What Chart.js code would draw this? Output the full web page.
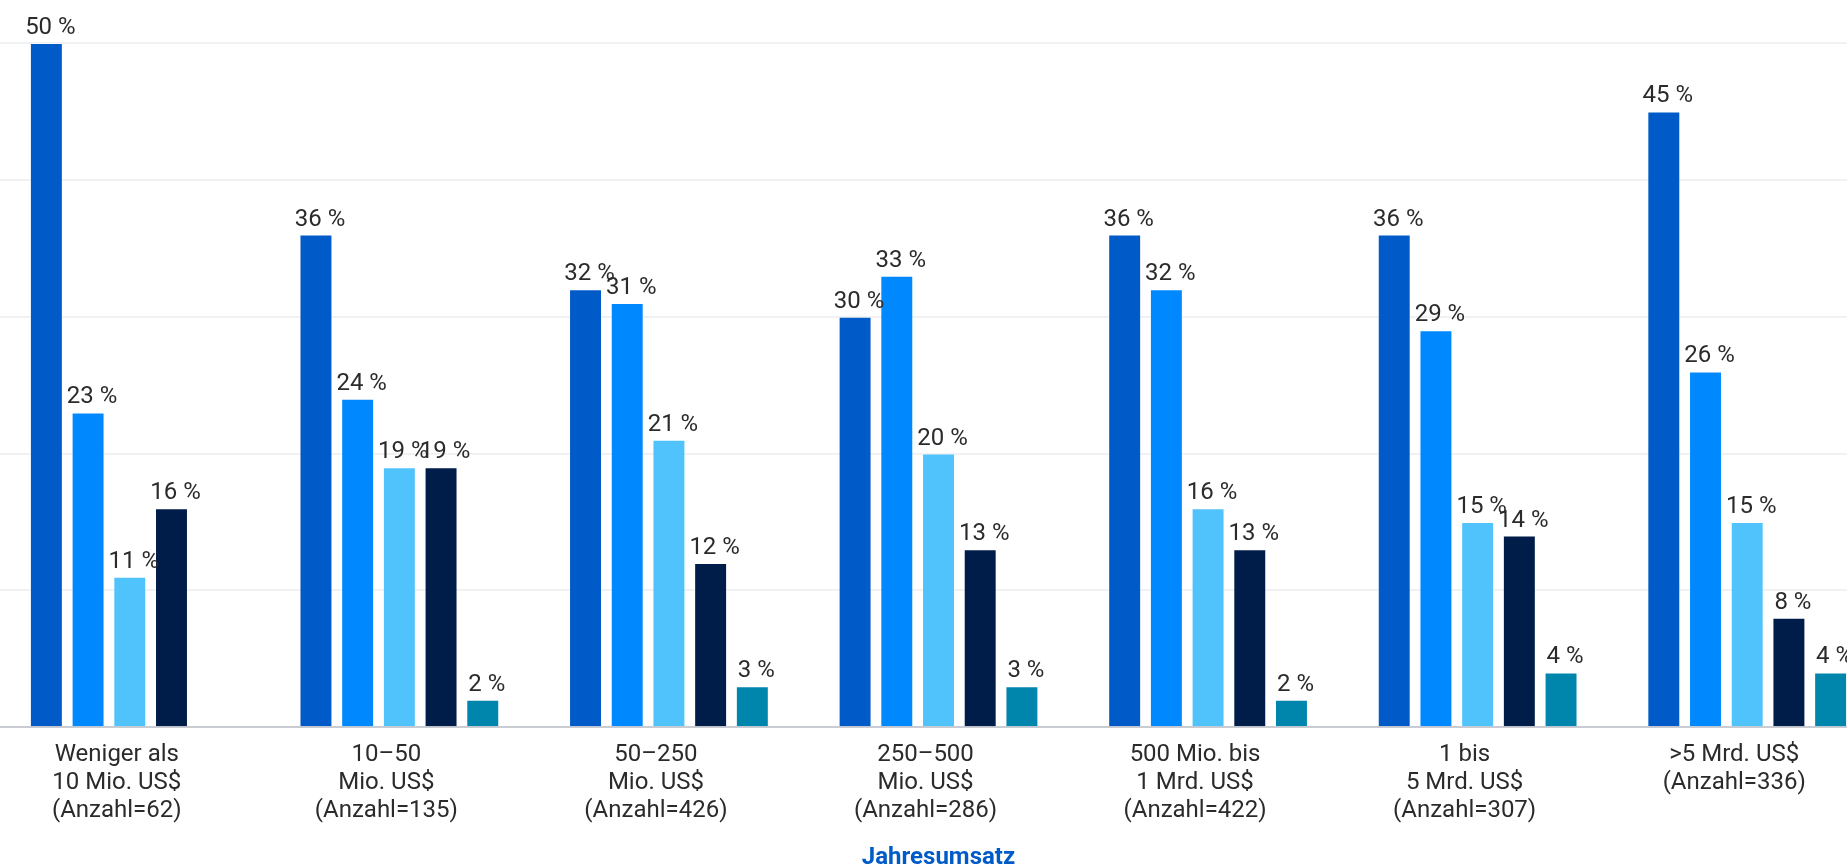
<!DOCTYPE html>
<html lang="de">
<head>
<meta charset="utf-8">
<title>Jahresumsatz</title>
<script src="https://cdn.jsdelivr.net/npm/chart.js@4/dist/chart.umd.min.js"></script>
<style>
    html, body { margin: 0; padding: 0; background: #fff; overflow: hidden; }
    body { width: 1847px; height: 867px; position: relative; }
    #umsatzChart { position: absolute; left: -5px; top: 0; }
</style>
</head>
<body>
<canvas id="umsatzChart" width="1887" height="880"></canvas>
<script>
// Umsatzklassen (x-Achse), mehrzeilig
const kategorien = [
    ['Weniger als', '10 Mio. US$', '(Anzahl=62)'],
    ['10–50', 'Mio. US$', '(Anzahl=135)'],
    ['50–250', 'Mio. US$', '(Anzahl=426)'],
    ['250–500', 'Mio. US$', '(Anzahl=286)'],
    ['500 Mio. bis', '1 Mrd. US$', '(Anzahl=422)'],
    ['1 bis', '5 Mrd. US$', '(Anzahl=307)'],
    ['>5 Mrd. US$', '(Anzahl=336)']
];

// Anteile in Prozent je Reihe
const reihe1 = [50, 36, 32, 30, 36, 36, 45];
const reihe2 = [23, 24, 31, 33, 32, 29, 26];
const reihe3 = [11, 19, 21, 20, 16, 15, 15];
const reihe4 = [16, 19, 12, 13, 13, 14, 8];
const reihe5 = [null, 2, 3, 3, 2, 4, 4];

const farben = ['#005bc8', '#0089ff', '#50c3fc', '#001c48', '#0085ad'];

const yTicks = [0, 10, 20, 30, 40, 50];

const fontFamily = 'Roboto, "Liberation Sans", sans-serif';

// Prozentwerte über die Balken schreiben
const wertLabels = {
    id: 'wertLabels',
    afterDatasetsDraw(chart) {
        const ctx = chart.ctx;
        ctx.save();
        ctx.font = '24px ' + fontFamily;
        ctx.fillStyle = '#2b2b2b';
        ctx.textAlign = 'center';
        ctx.textBaseline = 'alphabetic';
        chart.data.datasets.forEach((ds, i) => {
            const meta = chart.getDatasetMeta(i);
            meta.data.forEach((bar, j) => {
                const v = ds.data[j];
                if (v === null || v === undefined) return;
                ctx.fillText(v + ' %', bar.x + 4, bar.y - 9);
            });
        });
        ctx.restore();
    }
};

const datasets = [reihe1, reihe2, reihe3, reihe4, reihe5].map((werte, i) => ({
    label: 'Reihe ' + (i + 1),
    data: werte,
    backgroundColor: farben[i],
    borderColor: 'rgba(255,255,255,0.35)',
    borderWidth: 1,
    categoryPercentage: 0.7735,
    barPercentage: 0.79
}));

new Chart(document.getElementById('umsatzChart'), {
    type: 'bar',
    data: {
        labels: kategorien,
        datasets: datasets
    },
    options: {
        responsive: false,
        animation: false,
        devicePixelRatio: 1,
        layout: {
            padding: { top: 43, right: 0, bottom: 0, left: 0 }
        },
        plugins: {
            legend: { display: false },
            tooltip: { enabled: false }
        },
        scales: {
            x: {
                grid: { display: false, drawTicks: false },
                border: { display: true, color: '#c9ccd2', width: 2 },
                ticks: {
                    color: '#2b2b2b',
                    padding: 14,
                    labelOffset: -13,
                    maxRotation: 0,
                    autoSkip: false,
                    font: { family: fontFamily, size: 24, lineHeight: '28px' }
                },
                title: {
                    display: true,
                    text: 'Jahresumsatz',
                    color: '#005bc8',
                    // die Achse reserviert den Tick-Abstand doppelt, daher oben knapp
                    padding: { top: 4, bottom: 8 },
                    font: { family: fontFamily, size: 24, weight: 'bold', lineHeight: 1.2 }
                }
            },
            y: {
                min: 0,
                max: 50,
                afterBuildTicks: axis => { axis.ticks = yTicks.map(v => ({ value: v })); },
                grid: {
                    drawTicks: false,
                    lineWidth: 2,
                    color: ctx => ctx.tick && ctx.tick.value === 0 ? 'rgba(0,0,0,0)' : '#eff1f3'
                },
                border: { display: false },
                ticks: { display: false }
            }
        }
    },
    plugins: [wertLabels]
});
</script>
</body>
</html>
